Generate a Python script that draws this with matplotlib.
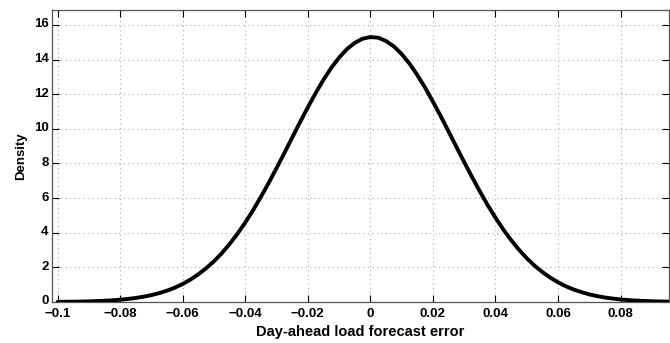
import numpy as np
import matplotlib
matplotlib.use("Agg")
import matplotlib.pyplot as plt
import matplotlib.transforms as mtransforms

# Values (density vs. forecast error)
error_values = [-0.1000, -0.0975, -0.0950, -0.0925, -0.0900, -0.0875, -0.0850, -0.0825,
                -0.0800, -0.0775, -0.0750, -0.0725, -0.0700, -0.0675, -0.0650, -0.0625,
                -0.0600, -0.0575, -0.0550, -0.0525, -0.0500, -0.0475, -0.0450, -0.0425,
                -0.0400, -0.0375, -0.0350, -0.0325, -0.0300, -0.0275, -0.0250, -0.0225,
                -0.0200, -0.0175, -0.0150, -0.0125, -0.0100, -0.0075, -0.0050, -0.0025,
                0.0000, 0.0025, 0.0050, 0.0075, 0.0100, 0.0125, 0.0150, 0.0175,
                0.0200, 0.0225, 0.0250, 0.0275, 0.0300, 0.0325, 0.0350, 0.0375,
                0.0400, 0.0425, 0.0450, 0.0475, 0.0500, 0.0525, 0.0550, 0.0575,
                0.0600, 0.0625, 0.0650, 0.0675, 0.0700, 0.0725, 0.0750, 0.0775,
                0.0800, 0.0825, 0.0850, 0.0875, 0.0900, 0.0925, 0.0950, 0.0975, 0.1000]
density_values = [0.009, 0.013, 0.019, 0.027, 0.037, 0.052, 0.071, 0.097,
                  0.132, 0.176, 0.233, 0.306, 0.398, 0.514, 0.656, 0.831,
                  1.04, 1.30, 1.60, 1.95, 2.35, 2.82, 3.35, 3.94,
                  4.59, 5.30, 6.07, 6.88, 7.73, 8.60, 9.49, 10.38,
                  11.24, 12.06, 12.83, 13.52, 14.11, 14.60, 14.96, 15.20,
                  15.30, 15.26, 15.07, 14.76, 14.32, 13.77, 13.11, 12.38,
                  11.57, 10.73, 9.85, 8.96, 8.08, 7.22, 6.39, 5.60,
                  4.87, 4.19, 3.58, 3.02, 2.53, 2.10, 1.73, 1.41,
                  1.14, 0.91, 0.72, 0.57, 0.44, 0.34, 0.26, 0.197,
                  0.148, 0.110, 0.081, 0.059, 0.043, 0.031, 0.022, 0.015, 0.011]
x_ticks = [-0.1, -0.08, -0.06, -0.04, -0.02, 0, 0.02, 0.04, 0.06, 0.08]
x_tick_labels = ["\u22120.1", "\u22120.08", "\u22120.06", "\u22120.04", "\u22120.02",
                 "0", "0.02", "0.04", "0.06", "0.08"]
y_ticks = [0, 2, 4, 6, 8, 10, 12, 14, 16]

plt.rcParams['font.family'] = ['Liberation Sans', 'DejaVu Sans']
plt.rcParams['font.weight'] = 'bold'

fig = plt.figure(figsize=(6.7, 3.43), dpi=100)
ax = fig.add_axes([52/670, (343-302)/343, (669-52)/670, (302-10)/343])

ax.plot(error_values, density_values, color='black', linewidth=2.8,
        solid_capstyle='round', solid_joinstyle='round', zorder=3)

ax.set_xlim(-0.1018, 0.0955)
ax.set_ylim(0, 16.86)
ax.set_xticks(x_ticks)
ax.set_xticklabels(x_tick_labels)
ax.set_yticks(y_ticks)
ax.tick_params(direction='in', length=5, width=0.8, top=True, right=True,
               labelsize=9.5, colors='black')
ax.tick_params(axis='x', pad=4)
ax.tick_params(axis='y', pad=2.5)
for lbl in ax.get_xticklabels() + ax.get_yticklabels():
    lbl.set_fontweight('bold')
up = mtransforms.ScaledTranslation(0, 2.0/100, fig.dpi_scale_trans)
for lbl in ax.get_yticklabels():
    lbl.set_transform(lbl.get_transform() + up)
ax.grid(True, linestyle=(0, (1, 3)), color='#aaaaaa', linewidth=0.8)
for s in ax.spines.values():
    s.set_color('#555555')
    s.set_linewidth(0.9)

ax.set_xlabel('Day-ahead load forecast error', fontsize=10.5, fontweight='bold', labelpad=4)
ax.set_ylabel('Density', fontsize=9.5, fontweight='bold', labelpad=5)

fig.savefig('out.png', dpi=100)
